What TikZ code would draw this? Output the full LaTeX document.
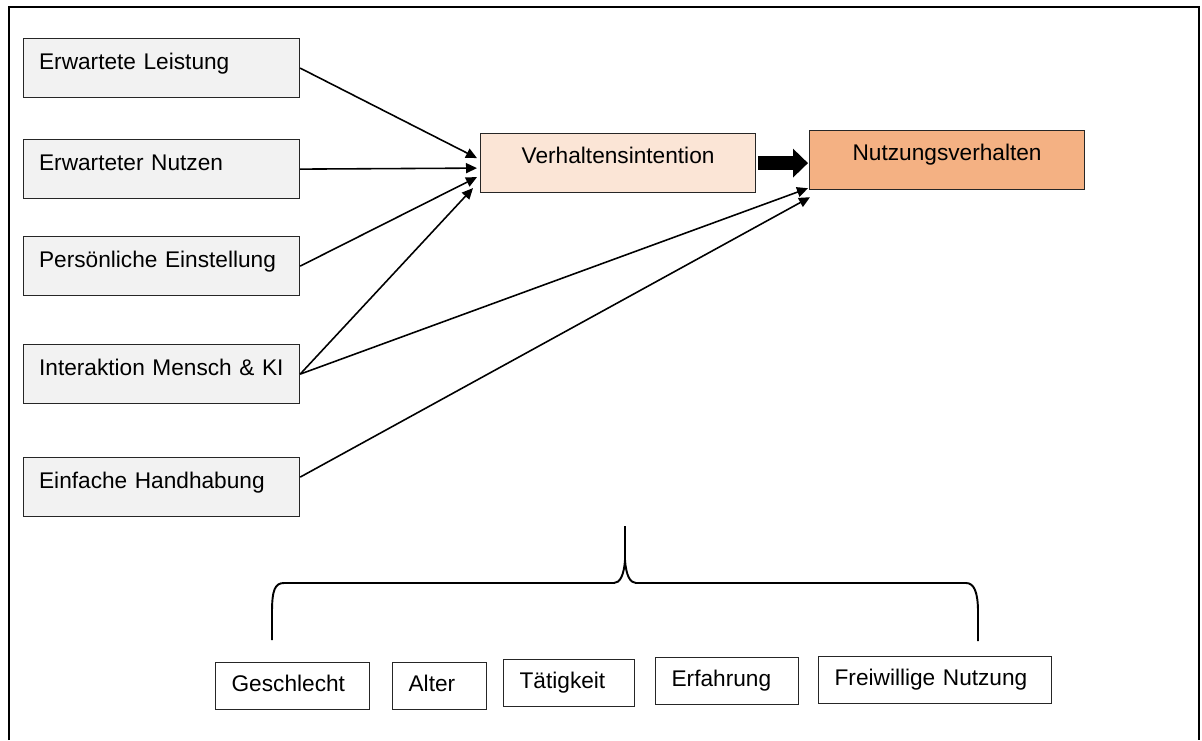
\documentclass[tikz,border=0pt]{standalone}
\usepackage{xcolor}
\usepackage{fontspec}
\setmainfont{Liberation Sans}
\usepackage{tikz}
\usetikzlibrary{arrows.meta, positioning, calc}

\definecolor{fgrau}{HTML}{F2F2F2}
\definecolor{fpfirsich}{HTML}{FBE5D6}
\definecolor{forange}{HTML}{F4B183}

\begin{document}
\begin{tikzpicture}[
        x=0.02cm, y=-0.02cm,
        % 1. STILE
        base/.style={
            draw=black!85, line width=0.7pt, anchor=north west, inner ysep=0pt,
            font=\fontsize{12.9}{15}\selectfont
        },
        % Einflussfaktoren (links, grau)
        faktor/.style={base, fill=fgrau, text width=4.9cm, inner xsep=0.31cm,
            align=left, text height=0.62cm, text depth=0.56cm},
        % Konstrukte (oben, farbig)
        konstrukt/.style={base, text width=4.82cm, inner xsep=0.34cm,
            align=center, text height=0.6cm, text depth=0.58cm},
        % Moderatoren (unten, weiss)
        merkmal/.style={base, fill=white, inner xsep=0.32cm, align=left,
            text height=0.58cm, text depth=0.36cm},
        % Pfeile
        pfeil/.style={line width=0.9pt, -{Triangle[length=0.22cm,width=0.2cm]}},
        dickpfeil/.style={line width=0.28cm, -{Triangle[length=0.3cm,width=0.56cm]}}
    ]
        \useasboundingbox (0,0) rectangle (1202,740);

        % Rahmen (unten offen)
        \draw[line width=1.6pt] (9,740) -- (9,7) -- (1199,7) -- (1199,740);

        % 2. KNOTEN
        \node[faktor] (f1) at (23,38)  {Erwartete Leistung};
        \node[faktor] (f2) at (23,139) {Erwarteter Nutzen};
        \node[faktor] (f3) at (23,236) {Persönliche Einstellung};
        \node[faktor] (f4) at (23,344) {Interaktion Mensch \& KI};
        \node[faktor] (f5) at (23,457) {Einfache Handhabung};

        \node[konstrukt, fill=fpfirsich] (vi) at (480,133) {Verhaltensintention};
        \node[konstrukt, fill=forange]   (nv) at (809,130) {Nutzungsverhalten};

        \node[merkmal, text width=2.44cm] (ge) at (215,662) {Geschlecht};
        \node[merkmal, text width=1.24cm] (al) at (392,662) {Alter};
        \node[merkmal, text width=1.98cm] (ta) at (503,659) {Tätigkeit};
        \node[merkmal, text width=2.22cm] (er) at (655,657) {Erfahrung};
        \node[merkmal, text width=4.02cm] (fn) at (818,656) {Freiwillige Nutzung};

        % 3. PFEILE
        \draw[pfeil] (f1.east) -- ($(vi.west)+(-3,-5)$);
        \draw[pfeil] (f2.east) -- ($(vi.west)+(-3,5)$);
        \draw[pfeil] (f3.east) -- ($(vi.west)+(-3,14)$);
        \draw[pfeil] (f4.east) -- ($(vi.west)+(-7,25)$);
        \draw[pfeil] (f4.east) -- ($(nv.south west)+(-1,-2)$);
        \draw[pfeil] ($(f5.east)+(0,-10)$) -- ($(nv.south west)+(1,7)$);
        \draw[dickpfeil] ($(vi.east)+(2,0)$) -- ($(vi.east -| nv.west)+(-1,0)$);

        % geschweifte Klammer ueber den Moderatoren
        \draw[line width=1.1pt]
            (272,640) -- (272,612) .. controls (272,590) and (275,583) .. (284,583)
            -- (614,583) .. controls (620,583) and (624,575) .. (625,560) -- (625,526)
            -- (625,560) .. controls (626,575) and (630,583) .. (636,583)
            -- (966,583) .. controls (974,583) and (978,592) .. (978,612) -- (978,641);

    \end{tikzpicture}
\end{document}
